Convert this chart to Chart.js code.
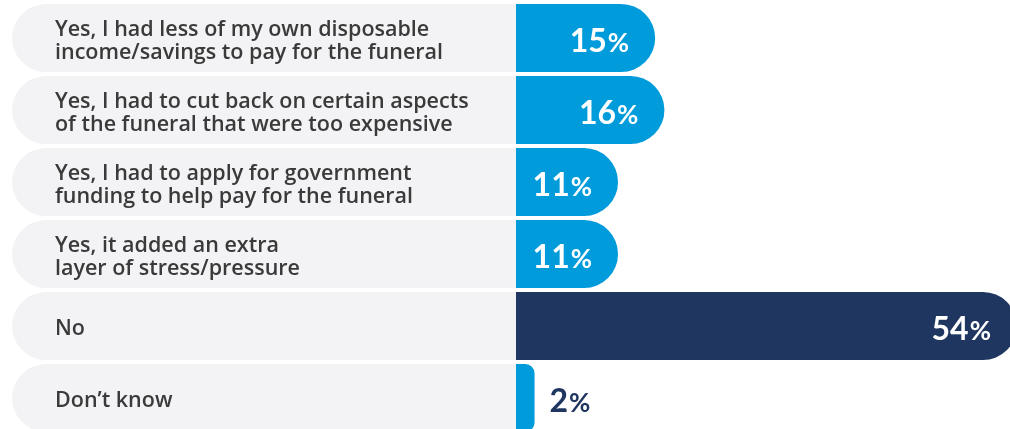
<!DOCTYPE html>
<html>
<head>
<meta charset="utf-8">
<script src="https://cdn.jsdelivr.net/npm/chart.js@4/dist/chart.umd.min.js"></script>
<style>
  html, body { margin: 0; padding: 0; background: #fff; overflow: hidden; }
  #wrap { position: relative; width: 1010px; height: 436px; }
</style>
</head>
<body>
<div id="wrap"><canvas id="funeral_chart"></canvas></div>
<script>
// Answers and share of respondents (%)
const categories = [
    ['Yes, I had less of my own disposable', 'income/savings to pay for the funeral'],
    ['Yes, I had to cut back on certain aspects', 'of the funeral that were too expensive'],
    ['Yes, I had to apply for government', 'funding to help pay for the funeral'],
    ['Yes, it added an extra', 'layer of stress/pressure'],
    'No',
    'Don\u2019t know'
];
const values = [15, 16, 11, 11, 54, 2];

const BLUE = '#009bdb';
const NAVY = '#1f3660';
const ROW_GREY = '#f3f3f5';
const TEXT = '#3a3a3a';
const LABEL_FONT = '"Open Sans", Lato, sans-serif';
const VALUE_FONT = 'Lato, "Open Sans", sans-serif';

// grey pill behind each label, drawn before the axis text
const rowBoxes = {
    id: 'rowBoxes',
    beforeDraw(chart) {
        const ctx = chart.ctx;
        const meta = chart.getDatasetMeta(0);
        ctx.save();
        ctx.fillStyle = ROW_GREY;
        meta.data.forEach(bar => {
            const h = bar.height;
            const top = bar.y - h / 2;
            const left = 12;
            const right = chart.chartArea.left;
            const r = h / 2;
            ctx.beginPath();
            ctx.moveTo(right, top);
            ctx.lineTo(left + r, top);
            ctx.arc(left + r, bar.y, r, -Math.PI / 2, Math.PI / 2, true);
            ctx.lineTo(right, top + h);
            ctx.closePath();
            ctx.fill();
        });
        ctx.restore();
    }
};

// "15%" style labels: big number, smaller percent sign
const valueLabels = {
    id: 'valueLabels',
    afterDatasetsDraw(chart) {
        const ctx = chart.ctx;
        const meta = chart.getDatasetMeta(0);
        ctx.save();
        ctx.textBaseline = 'alphabetic';
        meta.data.forEach((bar, i) => {
            const num = String(values[i]);
            const numFont = 'bold 32px ' + VALUE_FONT;
            const pctFont = 'bold 26px ' + VALUE_FONT;
            ctx.font = numFont;
            const nw = ctx.measureText(num).width;
            ctx.font = pctFont;
            const pw = ctx.measureText('%').width;
            const baseY = bar.y + 14;
            let x;
            if (values[i] < 5) {
                ctx.fillStyle = NAVY;
                x = bar.x + 15;
            } else {
                ctx.fillStyle = '#ffffff';
                x = Math.min(bar.x, chart.chartArea.right + 8) - 27 - nw - pw;
            }
            ctx.textAlign = 'left';
            ctx.font = numFont;
            ctx.fillText(num, x, baseY);
            ctx.font = pctFont;
            ctx.fillText('%', x + nw + 1, baseY);
        });
        ctx.restore();
    }
};

const ctx = document.getElementById('funeral_chart').getContext('2d');

new Chart(ctx, {
    type: 'bar',
    data: {
        labels: categories,
        datasets: [{
            data: values,
            backgroundColor: values.map((v, i) => i === 4 ? NAVY : BLUE),
            borderWidth: 0,
            borderSkipped: 'start',
            borderRadius: { topRight: 34, bottomRight: 34, topLeft: 0, bottomLeft: 0 },
            categoryPercentage: 68 / 72,
            barPercentage: 1
        }]
    },
    options: {
        indexAxis: 'y',
        responsive: true,
        maintainAspectRatio: false,
        animation: false,
        layout: {
            padding: { left: 55, right: 0, top: 2, bottom: 2 }
        },
        plugins: {
            legend: { display: false },
            tooltip: { enabled: false }
        },
        scales: {
            x: {
                display: false,
                min: 0,
                max: 53.25
            },
            y: {
                grid: { display: false, drawTicks: false },
                border: { display: false },
                ticks: {
                    crossAlign: 'far',
                    padding: 0,
                    labelOffset: 3,
                    color: TEXT,
                    font: { family: LABEL_FONT, size: 21.5, weight: '600', lineHeight: 1.08 }
                },
                afterFit(scale) {
                    scale.width = 461;
                    scale.paddingTop = 0;
                    scale.paddingBottom = 0;
                }
            }
        }
    },
    plugins: [rowBoxes, valueLabels]
});
</script>
</body>
</html>
